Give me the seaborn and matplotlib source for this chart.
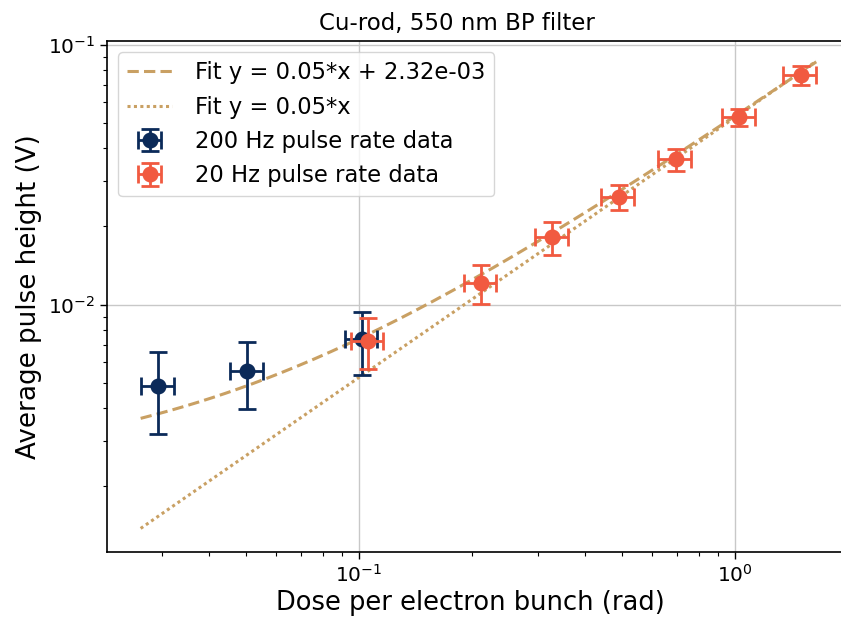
import numpy as np
import matplotlib
matplotlib.use("Agg")
import matplotlib.pyplot as plt
import seaborn as sns
import pandas as pd

# ---- data ----
x_200 = [0.0292, 0.0504, 0.1017]
y_200 = [0.00488, 0.00557, 0.00738]
yerr_200 = [0.0017, 0.0016, 0.0020]

x_20 = [0.1055, 0.211, 0.327, 0.4905, 0.6955, 1.025, 1.495]
y_20 = [0.00727, 0.01215, 0.01816, 0.0260, 0.03624, 0.05257, 0.07625]
yerr_20 = [0.0016, 0.0021, 0.0026, 0.0029, 0.0035, 0.0040, 0.0062]

xerr_rel = 0.10  # relative dose uncertainty

fit_slope_offset = 0.0508
fit_offset = 2.32e-3
fit_slope_prop = 0.0525
fit_x_min = 0.02626
fit_x_max = 1.645

navy = "#0b2a59"
red = "#f15a40"
tan = "#c9a063"

sns.set_style("ticks")
plt.rcParams['font.family'] = ['DejaVu Sans']
plt.rcParams.update({'text.color': 'black', 'axes.labelcolor': 'black',
                     'xtick.color': 'black', 'ytick.color': 'black'})

fig = plt.figure(figsize=(8.41, 6.17), dpi=100)
ax = fig.add_axes([106.7/841, 64.7/617, (850-106.7)/841, (552.3-41)/617])

xf = np.geomspace(fit_x_min, fit_x_max, 200)
fit_df = pd.DataFrame({
    "x": np.concatenate([xf, xf]),
    "y": np.concatenate([fit_slope_offset*xf + fit_offset, fit_slope_prop*xf]),
    "fit": ["dash"]*len(xf) + ["dot"]*len(xf),
})
sns.lineplot(data=fit_df[fit_df.fit == "dash"], x="x", y="y",
             ax=ax, color=tan, lw=2.2, linestyle=(0, (3.7, 1.7)), legend=False, sort=False)
sns.lineplot(data=fit_df[fit_df.fit == "dot"], x="x", y="y",
             ax=ax, color=tan, lw=2.2, linestyle=(0, (1, 1.1)), legend=False, sort=False)
ln_dash, ln_dot = ax.lines[0], ax.lines[1]

x200 = np.array(x_200); x20 = np.array(x_20)
eb200 = ax.errorbar(x200, y_200, xerr=x200*xerr_rel, yerr=yerr_200, fmt='o', color=navy,
                    ms=10.5, elinewidth=2.0, capsize=6.5, capthick=2.0, zorder=3)
eb20 = ax.errorbar(x20, y_20, xerr=x20*xerr_rel, yerr=yerr_20, fmt='o', color=red,
                   ms=10.5, elinewidth=2.0, capsize=6.5, capthick=2.0, zorder=4)

ax.set_xscale('log')
ax.set_yscale('log')
ax.set_xlim(0.02133, 2.023)
ax.set_ylim(0.001116, 0.1033)
ax.grid(True, which='major', color='#c8c8c8', lw=1.0)
ax.grid(False, which='minor')
for s in ax.spines.values():
    s.set_color('black')
    s.set_linewidth(1.2)
ax.tick_params(axis='both', which='major', labelsize=14.5, length=5, width=1.0)
ax.tick_params(axis='both', which='minor', length=3, width=0.8)

ax.set_title("Cu-rod, 550 nm BP filter", fontsize=16.5, pad=8, x=(456.5-106.7)/(850-106.7))
ax.set_xlabel("Dose per electron bunch (rad)", fontsize=18.5)
ax.xaxis.set_label_coords((470-106.7)/(850-106.7), -0.073)
ax.set_ylabel("Average pulse height (V)", fontsize=18.8)

leg = ax.legend([ln_dash, ln_dot, eb200, eb20],
                ["Fit y = 0.05*x + 2.32e-03", "Fit y = 0.05*x",
                 "200 Hz pulse rate data", "20 Hz pulse rate data"],
                loc='upper left', fontsize=16.3, frameon=True, fancybox=True,
                borderaxespad=0.5, handletextpad=1.0, handlelength=2.0)
leg.get_frame().set_edgecolor('#cccccc')

fig.savefig("out.png", dpi=100)
